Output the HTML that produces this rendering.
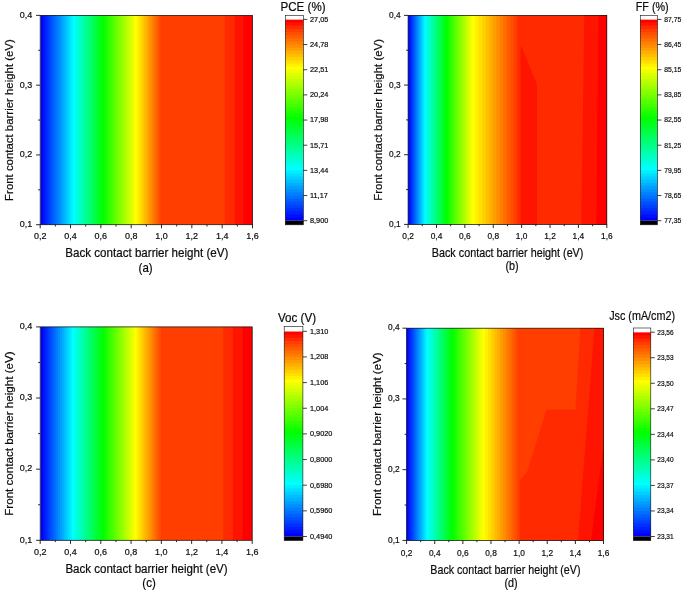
<!DOCTYPE html>
<html><head><meta charset="utf-8"><title>Contour plots</title>
<style>html,body{margin:0;padding:0;background:#fff}svg{display:block;filter:blur(0.35px)}text{font-family:"Liberation Sans",Arial,sans-serif;fill:#0c0c0c;stroke:#0c0c0c;stroke-width:0.2px}</style></head><body>
<svg width="685" height="591" viewBox="0 0 685 591">
<rect width="685" height="591" fill="#fff"/>
<g id="pa">
<rect x="40.50" y="15.40" width="3.02" height="209.30" fill="#0000ff"/>
<rect x="42.52" y="15.40" width="3.02" height="209.30" fill="#0010ff"/>
<rect x="44.54" y="15.40" width="3.02" height="209.30" fill="#0020ff"/>
<rect x="46.56" y="15.40" width="3.02" height="209.30" fill="#0030ff"/>
<rect x="48.58" y="15.40" width="3.02" height="209.30" fill="#0040ff"/>
<rect x="50.59" y="15.40" width="3.02" height="209.30" fill="#0050ff"/>
<rect x="52.61" y="15.40" width="3.02" height="209.30" fill="#0060ff"/>
<rect x="54.63" y="15.40" width="3.02" height="209.30" fill="#0070ff"/>
<rect x="56.65" y="15.40" width="3.02" height="209.30" fill="#0080ff"/>
<rect x="58.67" y="15.40" width="3.02" height="209.30" fill="#008fff"/>
<rect x="60.69" y="15.40" width="3.02" height="209.30" fill="#009fff"/>
<rect x="62.71" y="15.40" width="3.02" height="209.30" fill="#00afff"/>
<rect x="64.72" y="15.40" width="3.02" height="209.30" fill="#00bfff"/>
<rect x="66.74" y="15.40" width="3.02" height="209.30" fill="#00cfff"/>
<rect x="68.76" y="15.40" width="3.02" height="209.30" fill="#00dfff"/>
<rect x="70.78" y="15.40" width="3.02" height="209.30" fill="#00efff"/>
<rect x="72.80" y="15.40" width="2.83" height="209.30" fill="#00ffff"/>
<rect x="74.62" y="15.40" width="2.83" height="209.30" fill="#00ffef"/>
<rect x="76.45" y="15.40" width="2.82" height="209.30" fill="#00ffdf"/>
<rect x="78.27" y="15.40" width="2.83" height="209.30" fill="#00ffcf"/>
<rect x="80.10" y="15.40" width="2.83" height="209.30" fill="#00ffbf"/>
<rect x="81.92" y="15.40" width="2.83" height="209.30" fill="#00ffaf"/>
<rect x="83.75" y="15.40" width="2.83" height="209.30" fill="#00ff9f"/>
<rect x="85.58" y="15.40" width="2.83" height="209.30" fill="#00ff8f"/>
<rect x="87.40" y="15.40" width="2.82" height="209.30" fill="#00ff80"/>
<rect x="89.22" y="15.40" width="2.83" height="209.30" fill="#00ff70"/>
<rect x="91.05" y="15.40" width="2.83" height="209.30" fill="#00ff60"/>
<rect x="92.88" y="15.40" width="2.83" height="209.30" fill="#00ff50"/>
<rect x="94.70" y="15.40" width="2.83" height="209.30" fill="#00ff40"/>
<rect x="96.53" y="15.40" width="2.82" height="209.30" fill="#00ff30"/>
<rect x="98.35" y="15.40" width="2.83" height="209.30" fill="#00ff20"/>
<rect x="100.17" y="15.40" width="2.83" height="209.30" fill="#00ff10"/>
<rect x="102.00" y="15.40" width="3.06" height="209.30" fill="#00ff00"/>
<rect x="104.06" y="15.40" width="3.06" height="209.30" fill="#10ff00"/>
<rect x="106.12" y="15.40" width="3.06" height="209.30" fill="#20ff00"/>
<rect x="108.19" y="15.40" width="3.06" height="209.30" fill="#30ff00"/>
<rect x="110.25" y="15.40" width="3.06" height="209.30" fill="#40ff00"/>
<rect x="112.31" y="15.40" width="3.06" height="209.30" fill="#50ff00"/>
<rect x="114.38" y="15.40" width="3.06" height="209.30" fill="#60ff00"/>
<rect x="116.44" y="15.40" width="3.06" height="209.30" fill="#70ff00"/>
<rect x="118.50" y="15.40" width="3.06" height="209.30" fill="#80ff00"/>
<rect x="120.56" y="15.40" width="3.06" height="209.30" fill="#8fff00"/>
<rect x="122.62" y="15.40" width="3.06" height="209.30" fill="#9fff00"/>
<rect x="124.69" y="15.40" width="3.06" height="209.30" fill="#afff00"/>
<rect x="126.75" y="15.40" width="3.06" height="209.30" fill="#bfff00"/>
<rect x="128.81" y="15.40" width="3.06" height="209.30" fill="#cfff00"/>
<rect x="130.88" y="15.40" width="3.06" height="209.30" fill="#dfff00"/>
<rect x="132.94" y="15.40" width="3.06" height="209.30" fill="#efff00"/>
<rect x="135.00" y="15.40" width="3.12" height="209.30" fill="#ffff00"/>
<rect x="137.12" y="15.40" width="3.12" height="209.30" fill="#ffef00"/>
<rect x="139.25" y="15.40" width="3.12" height="209.30" fill="#ffdf00"/>
<rect x="141.38" y="15.40" width="3.12" height="209.30" fill="#ffcf00"/>
<rect x="143.50" y="15.40" width="3.12" height="209.30" fill="#ffbf00"/>
<rect x="145.62" y="15.40" width="3.12" height="209.30" fill="#ffaf00"/>
<rect x="147.75" y="15.40" width="3.12" height="209.30" fill="#ff9e00"/>
<rect x="149.88" y="15.40" width="3.12" height="209.30" fill="#ff8e00"/>
<rect x="152.00" y="15.40" width="3.12" height="209.30" fill="#ff7e00"/>
<rect x="154.12" y="15.40" width="3.12" height="209.30" fill="#ff6e00"/>
<rect x="156.25" y="15.40" width="3.12" height="209.30" fill="#ff5e00"/>
<rect x="158.38" y="15.40" width="3.12" height="209.30" fill="#ff4e00"/>
<rect x="160.50" y="15.40" width="65.30" height="209.30" fill="#ff3e00"/>
<rect x="224.80" y="15.40" width="10.90" height="209.30" fill="#ff2a00"/>
<rect x="234.70" y="15.40" width="9.80" height="209.30" fill="#ff1400"/>
<rect x="243.50" y="15.40" width="9.00" height="209.30" fill="#ff0000"/>
<rect x="40.20" y="15.40" width="212.30" height="209.30" fill="none" stroke="#111" stroke-width="0.75"/>
<line x1="40.20" y1="224.70" x2="40.20" y2="228.30" stroke="#111" stroke-width="0.9"/>
<text transform="translate(40.20 239.00) scale(1.000 1.050)" font-size="9.00" text-anchor="middle">0,2</text>
<line x1="55.36" y1="224.70" x2="55.36" y2="226.50" stroke="#111" stroke-width="0.9"/>
<line x1="70.53" y1="224.70" x2="70.53" y2="228.30" stroke="#111" stroke-width="0.9"/>
<text transform="translate(70.53 239.00) scale(1.000 1.050)" font-size="9.00" text-anchor="middle">0,4</text>
<line x1="85.69" y1="224.70" x2="85.69" y2="226.50" stroke="#111" stroke-width="0.9"/>
<line x1="100.86" y1="224.70" x2="100.86" y2="228.30" stroke="#111" stroke-width="0.9"/>
<text transform="translate(100.86 239.00) scale(1.000 1.050)" font-size="9.00" text-anchor="middle">0,6</text>
<line x1="116.02" y1="224.70" x2="116.02" y2="226.50" stroke="#111" stroke-width="0.9"/>
<line x1="131.19" y1="224.70" x2="131.19" y2="228.30" stroke="#111" stroke-width="0.9"/>
<text transform="translate(131.19 239.00) scale(1.000 1.050)" font-size="9.00" text-anchor="middle">0,8</text>
<line x1="146.35" y1="224.70" x2="146.35" y2="226.50" stroke="#111" stroke-width="0.9"/>
<line x1="161.51" y1="224.70" x2="161.51" y2="228.30" stroke="#111" stroke-width="0.9"/>
<text transform="translate(161.51 239.00) scale(1.000 1.050)" font-size="9.00" text-anchor="middle">1,0</text>
<line x1="176.68" y1="224.70" x2="176.68" y2="226.50" stroke="#111" stroke-width="0.9"/>
<line x1="191.84" y1="224.70" x2="191.84" y2="228.30" stroke="#111" stroke-width="0.9"/>
<text transform="translate(191.84 239.00) scale(1.000 1.050)" font-size="9.00" text-anchor="middle">1,2</text>
<line x1="207.01" y1="224.70" x2="207.01" y2="226.50" stroke="#111" stroke-width="0.9"/>
<line x1="222.17" y1="224.70" x2="222.17" y2="228.30" stroke="#111" stroke-width="0.9"/>
<text transform="translate(222.17 239.00) scale(1.000 1.050)" font-size="9.00" text-anchor="middle">1,4</text>
<line x1="237.34" y1="224.70" x2="237.34" y2="226.50" stroke="#111" stroke-width="0.9"/>
<line x1="252.50" y1="224.70" x2="252.50" y2="228.30" stroke="#111" stroke-width="0.9"/>
<text transform="translate(252.50 239.00) scale(1.000 1.050)" font-size="9.00" text-anchor="middle">1,6</text>
<line x1="36.10" y1="224.70" x2="40.20" y2="224.70" stroke="#111" stroke-width="0.9"/>
<text transform="translate(32.30 227.20) scale(1.000 1.050)" font-size="9.00" text-anchor="end">0,1</text>
<line x1="38.20" y1="189.82" x2="40.20" y2="189.82" stroke="#111" stroke-width="0.9"/>
<line x1="36.10" y1="154.93" x2="40.20" y2="154.93" stroke="#111" stroke-width="0.9"/>
<text transform="translate(32.30 157.43) scale(1.000 1.050)" font-size="9.00" text-anchor="end">0,2</text>
<line x1="38.20" y1="120.05" x2="40.20" y2="120.05" stroke="#111" stroke-width="0.9"/>
<line x1="36.10" y1="85.17" x2="40.20" y2="85.17" stroke="#111" stroke-width="0.9"/>
<text transform="translate(32.30 87.67) scale(1.000 1.050)" font-size="9.00" text-anchor="end">0,3</text>
<line x1="38.20" y1="50.28" x2="40.20" y2="50.28" stroke="#111" stroke-width="0.9"/>
<line x1="36.10" y1="15.40" x2="40.20" y2="15.40" stroke="#111" stroke-width="0.9"/>
<text transform="translate(32.30 17.90) scale(1.000 1.050)" font-size="9.00" text-anchor="end">0,4</text>
<text transform="translate(146.80 256.80) scale(1.000 1.040)" font-size="11.60" text-anchor="middle">Back contact barrier height (eV)</text>
<text transform="translate(145.60 271.80) scale(1.000 1.040)" font-size="11.50" text-anchor="middle">(a)</text>
<text transform="translate(13.00 120.05) rotate(-90)" font-size="11.42" text-anchor="middle">Front contact barrier height (eV)</text>
<rect x="285.30" y="216.55" width="18.00" height="4.15" fill="#0000ff"/>
<rect x="285.30" y="213.41" width="18.00" height="4.15" fill="#0010ff"/>
<rect x="285.30" y="210.26" width="18.00" height="4.15" fill="#0020ff"/>
<rect x="285.30" y="207.12" width="18.00" height="4.15" fill="#0030ff"/>
<rect x="285.30" y="203.97" width="18.00" height="4.15" fill="#0040ff"/>
<rect x="285.30" y="200.83" width="18.00" height="4.15" fill="#0050ff"/>
<rect x="285.30" y="197.68" width="18.00" height="4.15" fill="#0060ff"/>
<rect x="285.30" y="194.54" width="18.00" height="4.15" fill="#0070ff"/>
<rect x="285.30" y="191.39" width="18.00" height="4.15" fill="#0080ff"/>
<rect x="285.30" y="188.25" width="18.00" height="4.15" fill="#008fff"/>
<rect x="285.30" y="185.10" width="18.00" height="4.15" fill="#009fff"/>
<rect x="285.30" y="181.96" width="18.00" height="4.15" fill="#00afff"/>
<rect x="285.30" y="178.81" width="18.00" height="4.15" fill="#00bfff"/>
<rect x="285.30" y="175.67" width="18.00" height="4.15" fill="#00cfff"/>
<rect x="285.30" y="172.52" width="18.00" height="4.15" fill="#00dfff"/>
<rect x="285.30" y="169.38" width="18.00" height="4.15" fill="#00efff"/>
<rect x="285.30" y="166.23" width="18.00" height="4.15" fill="#00ffff"/>
<rect x="285.30" y="163.08" width="18.00" height="4.15" fill="#00ffef"/>
<rect x="285.30" y="159.94" width="18.00" height="4.15" fill="#00ffdf"/>
<rect x="285.30" y="156.79" width="18.00" height="4.15" fill="#00ffcf"/>
<rect x="285.30" y="153.65" width="18.00" height="4.15" fill="#00ffbf"/>
<rect x="285.30" y="150.50" width="18.00" height="4.15" fill="#00ffaf"/>
<rect x="285.30" y="147.36" width="18.00" height="4.15" fill="#00ff9f"/>
<rect x="285.30" y="144.21" width="18.00" height="4.15" fill="#00ff8f"/>
<rect x="285.30" y="141.07" width="18.00" height="4.15" fill="#00ff80"/>
<rect x="285.30" y="137.92" width="18.00" height="4.15" fill="#00ff70"/>
<rect x="285.30" y="134.78" width="18.00" height="4.15" fill="#00ff60"/>
<rect x="285.30" y="131.63" width="18.00" height="4.15" fill="#00ff50"/>
<rect x="285.30" y="128.49" width="18.00" height="4.15" fill="#00ff40"/>
<rect x="285.30" y="125.34" width="18.00" height="4.15" fill="#00ff30"/>
<rect x="285.30" y="122.20" width="18.00" height="4.15" fill="#00ff20"/>
<rect x="285.30" y="119.05" width="18.00" height="4.15" fill="#00ff10"/>
<rect x="285.30" y="115.90" width="18.00" height="4.15" fill="#00ff00"/>
<rect x="285.30" y="112.76" width="18.00" height="4.15" fill="#10ff00"/>
<rect x="285.30" y="109.61" width="18.00" height="4.15" fill="#20ff00"/>
<rect x="285.30" y="106.47" width="18.00" height="4.15" fill="#30ff00"/>
<rect x="285.30" y="103.32" width="18.00" height="4.15" fill="#40ff00"/>
<rect x="285.30" y="100.18" width="18.00" height="4.15" fill="#50ff00"/>
<rect x="285.30" y="97.03" width="18.00" height="4.15" fill="#60ff00"/>
<rect x="285.30" y="93.89" width="18.00" height="4.15" fill="#70ff00"/>
<rect x="285.30" y="90.74" width="18.00" height="4.15" fill="#80ff00"/>
<rect x="285.30" y="87.60" width="18.00" height="4.15" fill="#8fff00"/>
<rect x="285.30" y="84.45" width="18.00" height="4.15" fill="#9fff00"/>
<rect x="285.30" y="81.31" width="18.00" height="4.15" fill="#afff00"/>
<rect x="285.30" y="78.16" width="18.00" height="4.15" fill="#bfff00"/>
<rect x="285.30" y="75.02" width="18.00" height="4.15" fill="#cfff00"/>
<rect x="285.30" y="71.87" width="18.00" height="4.15" fill="#dfff00"/>
<rect x="285.30" y="68.73" width="18.00" height="4.15" fill="#efff00"/>
<rect x="285.30" y="65.58" width="18.00" height="4.15" fill="#ffff00"/>
<rect x="285.30" y="62.43" width="18.00" height="4.15" fill="#ffef00"/>
<rect x="285.30" y="59.29" width="18.00" height="4.15" fill="#ffdf00"/>
<rect x="285.30" y="56.14" width="18.00" height="4.15" fill="#ffcf00"/>
<rect x="285.30" y="53.00" width="18.00" height="4.15" fill="#ffbf00"/>
<rect x="285.30" y="49.85" width="18.00" height="4.15" fill="#ffaf00"/>
<rect x="285.30" y="46.71" width="18.00" height="4.15" fill="#ff9e00"/>
<rect x="285.30" y="43.56" width="18.00" height="4.15" fill="#ff8e00"/>
<rect x="285.30" y="40.42" width="18.00" height="4.15" fill="#ff7e00"/>
<rect x="285.30" y="37.27" width="18.00" height="4.15" fill="#ff6e00"/>
<rect x="285.30" y="34.13" width="18.00" height="4.15" fill="#ff5e00"/>
<rect x="285.30" y="30.98" width="18.00" height="4.15" fill="#ff4e00"/>
<rect x="285.30" y="27.84" width="18.00" height="4.15" fill="#ff3e00"/>
<rect x="285.30" y="24.69" width="18.00" height="4.15" fill="#ff2a00"/>
<rect x="285.30" y="21.55" width="18.00" height="4.15" fill="#ff1400"/>
<rect x="285.30" y="19.40" width="18.00" height="3.15" fill="#ff0000"/>
<rect x="285.30" y="15.30" width="18.00" height="4.10" fill="#fff"/>
<rect x="285.30" y="220.70" width="18.00" height="4.10" fill="#000"/>
<rect x="285.30" y="15.30" width="18.00" height="209.50" fill="none" stroke="#111" stroke-width="0.6"/>
<line x1="303.30" y1="19.40" x2="307.30" y2="19.40" stroke="#111" stroke-width="0.8"/>
<text transform="translate(310.00 21.80) scale(0.930 1.000)" font-size="7.90">27,05</text>
<line x1="303.30" y1="44.56" x2="307.30" y2="44.56" stroke="#111" stroke-width="0.8"/>
<text transform="translate(310.00 46.96) scale(0.930 1.000)" font-size="7.90">24,78</text>
<line x1="303.30" y1="69.72" x2="307.30" y2="69.72" stroke="#111" stroke-width="0.8"/>
<text transform="translate(310.00 72.12) scale(0.930 1.000)" font-size="7.90">22,51</text>
<line x1="303.30" y1="94.89" x2="307.30" y2="94.89" stroke="#111" stroke-width="0.8"/>
<text transform="translate(310.00 97.29) scale(0.930 1.000)" font-size="7.90">20,24</text>
<line x1="303.30" y1="120.05" x2="307.30" y2="120.05" stroke="#111" stroke-width="0.8"/>
<text transform="translate(310.00 122.45) scale(0.930 1.000)" font-size="7.90">17,98</text>
<line x1="303.30" y1="145.21" x2="307.30" y2="145.21" stroke="#111" stroke-width="0.8"/>
<text transform="translate(310.00 147.61) scale(0.930 1.000)" font-size="7.90">15,71</text>
<line x1="303.30" y1="170.38" x2="307.30" y2="170.38" stroke="#111" stroke-width="0.8"/>
<text transform="translate(310.00 172.78) scale(0.930 1.000)" font-size="7.90">13,44</text>
<line x1="303.30" y1="195.54" x2="307.30" y2="195.54" stroke="#111" stroke-width="0.8"/>
<text transform="translate(310.00 197.94) scale(0.930 1.000)" font-size="7.90">11,17</text>
<line x1="303.30" y1="220.70" x2="307.30" y2="220.70" stroke="#111" stroke-width="0.8"/>
<text transform="translate(310.00 223.10) scale(0.930 1.000)" font-size="7.90">8,900</text>
<text transform="translate(303.00 10.90) scale(1.000 1.080)" font-size="11.60" text-anchor="middle">PCE (%)</text>
</g>
<g id="pc">
<rect x="40.50" y="326.90" width="2.96" height="213.40" fill="#0000ff"/>
<rect x="42.46" y="326.90" width="2.96" height="213.40" fill="#0010ff"/>
<rect x="44.41" y="326.90" width="2.96" height="213.40" fill="#0020ff"/>
<rect x="46.37" y="326.90" width="2.96" height="213.40" fill="#0030ff"/>
<rect x="48.33" y="326.90" width="2.96" height="213.40" fill="#0040ff"/>
<rect x="50.28" y="326.90" width="2.96" height="213.40" fill="#0050ff"/>
<rect x="52.24" y="326.90" width="2.96" height="213.40" fill="#0060ff"/>
<rect x="54.19" y="326.90" width="2.96" height="213.40" fill="#0070ff"/>
<rect x="56.15" y="326.90" width="2.96" height="213.40" fill="#0080ff"/>
<rect x="58.11" y="326.90" width="2.96" height="213.40" fill="#008fff"/>
<rect x="60.06" y="326.90" width="2.96" height="213.40" fill="#009fff"/>
<rect x="62.02" y="326.90" width="2.96" height="213.40" fill="#00afff"/>
<rect x="63.97" y="326.90" width="2.96" height="213.40" fill="#00bfff"/>
<rect x="65.93" y="326.90" width="2.96" height="213.40" fill="#00cfff"/>
<rect x="67.89" y="326.90" width="2.96" height="213.40" fill="#00dfff"/>
<rect x="69.84" y="326.90" width="2.96" height="213.40" fill="#00efff"/>
<rect x="71.80" y="326.90" width="2.90" height="213.40" fill="#00ffff"/>
<rect x="73.70" y="326.90" width="2.90" height="213.40" fill="#00ffef"/>
<rect x="75.60" y="326.90" width="2.90" height="213.40" fill="#00ffdf"/>
<rect x="77.50" y="326.90" width="2.90" height="213.40" fill="#00ffcf"/>
<rect x="79.40" y="326.90" width="2.90" height="213.40" fill="#00ffbf"/>
<rect x="81.30" y="326.90" width="2.90" height="213.40" fill="#00ffaf"/>
<rect x="83.20" y="326.90" width="2.90" height="213.40" fill="#00ff9f"/>
<rect x="85.10" y="326.90" width="2.90" height="213.40" fill="#00ff8f"/>
<rect x="87.00" y="326.90" width="2.90" height="213.40" fill="#00ff80"/>
<rect x="88.90" y="326.90" width="2.90" height="213.40" fill="#00ff70"/>
<rect x="90.80" y="326.90" width="2.90" height="213.40" fill="#00ff60"/>
<rect x="92.70" y="326.90" width="2.90" height="213.40" fill="#00ff50"/>
<rect x="94.60" y="326.90" width="2.90" height="213.40" fill="#00ff40"/>
<rect x="96.50" y="326.90" width="2.90" height="213.40" fill="#00ff30"/>
<rect x="98.40" y="326.90" width="2.90" height="213.40" fill="#00ff20"/>
<rect x="100.30" y="326.90" width="2.90" height="213.40" fill="#00ff10"/>
<rect x="102.20" y="326.90" width="3.02" height="213.40" fill="#00ff00"/>
<rect x="104.22" y="326.90" width="3.02" height="213.40" fill="#10ff00"/>
<rect x="106.24" y="326.90" width="3.02" height="213.40" fill="#20ff00"/>
<rect x="108.26" y="326.90" width="3.02" height="213.40" fill="#30ff00"/>
<rect x="110.28" y="326.90" width="3.02" height="213.40" fill="#40ff00"/>
<rect x="112.29" y="326.90" width="3.02" height="213.40" fill="#50ff00"/>
<rect x="114.31" y="326.90" width="3.02" height="213.40" fill="#60ff00"/>
<rect x="116.33" y="326.90" width="3.02" height="213.40" fill="#70ff00"/>
<rect x="118.35" y="326.90" width="3.02" height="213.40" fill="#80ff00"/>
<rect x="120.37" y="326.90" width="3.02" height="213.40" fill="#8fff00"/>
<rect x="122.39" y="326.90" width="3.02" height="213.40" fill="#9fff00"/>
<rect x="124.41" y="326.90" width="3.02" height="213.40" fill="#afff00"/>
<rect x="126.42" y="326.90" width="3.02" height="213.40" fill="#bfff00"/>
<rect x="128.44" y="326.90" width="3.02" height="213.40" fill="#cfff00"/>
<rect x="130.46" y="326.90" width="3.02" height="213.40" fill="#dfff00"/>
<rect x="132.48" y="326.90" width="3.02" height="213.40" fill="#efff00"/>
<rect x="134.50" y="326.90" width="3.18" height="213.40" fill="#ffff00"/>
<rect x="136.68" y="326.90" width="3.18" height="213.40" fill="#ffef00"/>
<rect x="138.87" y="326.90" width="3.18" height="213.40" fill="#ffdf00"/>
<rect x="141.05" y="326.90" width="3.18" height="213.40" fill="#ffcf00"/>
<rect x="143.23" y="326.90" width="3.18" height="213.40" fill="#ffbf00"/>
<rect x="145.42" y="326.90" width="3.18" height="213.40" fill="#ffaf00"/>
<rect x="147.60" y="326.90" width="3.18" height="213.40" fill="#ff9e00"/>
<rect x="149.78" y="326.90" width="3.18" height="213.40" fill="#ff8e00"/>
<rect x="151.97" y="326.90" width="3.18" height="213.40" fill="#ff7e00"/>
<rect x="154.15" y="326.90" width="3.18" height="213.40" fill="#ff6e00"/>
<rect x="156.33" y="326.90" width="3.18" height="213.40" fill="#ff5e00"/>
<rect x="158.52" y="326.90" width="3.18" height="213.40" fill="#ff4e00"/>
<rect x="160.70" y="326.90" width="63.50" height="213.40" fill="#ff3e00"/>
<rect x="223.20" y="326.90" width="10.70" height="213.40" fill="#ff2a00"/>
<rect x="232.90" y="326.90" width="10.60" height="213.40" fill="#ff1400"/>
<rect x="242.50" y="326.90" width="9.70" height="213.40" fill="#ff0000"/>
<rect x="40.20" y="326.90" width="212.00" height="213.40" fill="none" stroke="#111" stroke-width="0.75"/>
<line x1="40.20" y1="540.30" x2="40.20" y2="543.90" stroke="#111" stroke-width="0.9"/>
<text transform="translate(40.20 555.40) scale(1.000 1.050)" font-size="9.00" text-anchor="middle">0,2</text>
<line x1="55.34" y1="540.30" x2="55.34" y2="542.10" stroke="#111" stroke-width="0.9"/>
<line x1="70.49" y1="540.30" x2="70.49" y2="543.90" stroke="#111" stroke-width="0.9"/>
<text transform="translate(70.49 555.40) scale(1.000 1.050)" font-size="9.00" text-anchor="middle">0,4</text>
<line x1="85.63" y1="540.30" x2="85.63" y2="542.10" stroke="#111" stroke-width="0.9"/>
<line x1="100.77" y1="540.30" x2="100.77" y2="543.90" stroke="#111" stroke-width="0.9"/>
<text transform="translate(100.77 555.40) scale(1.000 1.050)" font-size="9.00" text-anchor="middle">0,6</text>
<line x1="115.91" y1="540.30" x2="115.91" y2="542.10" stroke="#111" stroke-width="0.9"/>
<line x1="131.06" y1="540.30" x2="131.06" y2="543.90" stroke="#111" stroke-width="0.9"/>
<text transform="translate(131.06 555.40) scale(1.000 1.050)" font-size="9.00" text-anchor="middle">0,8</text>
<line x1="146.20" y1="540.30" x2="146.20" y2="542.10" stroke="#111" stroke-width="0.9"/>
<line x1="161.34" y1="540.30" x2="161.34" y2="543.90" stroke="#111" stroke-width="0.9"/>
<text transform="translate(161.34 555.40) scale(1.000 1.050)" font-size="9.00" text-anchor="middle">1,0</text>
<line x1="176.49" y1="540.30" x2="176.49" y2="542.10" stroke="#111" stroke-width="0.9"/>
<line x1="191.63" y1="540.30" x2="191.63" y2="543.90" stroke="#111" stroke-width="0.9"/>
<text transform="translate(191.63 555.40) scale(1.000 1.050)" font-size="9.00" text-anchor="middle">1,2</text>
<line x1="206.77" y1="540.30" x2="206.77" y2="542.10" stroke="#111" stroke-width="0.9"/>
<line x1="221.91" y1="540.30" x2="221.91" y2="543.90" stroke="#111" stroke-width="0.9"/>
<text transform="translate(221.91 555.40) scale(1.000 1.050)" font-size="9.00" text-anchor="middle">1,4</text>
<line x1="237.06" y1="540.30" x2="237.06" y2="542.10" stroke="#111" stroke-width="0.9"/>
<line x1="252.20" y1="540.30" x2="252.20" y2="543.90" stroke="#111" stroke-width="0.9"/>
<text transform="translate(252.20 555.40) scale(1.000 1.050)" font-size="9.00" text-anchor="middle">1,6</text>
<line x1="36.10" y1="540.30" x2="40.20" y2="540.30" stroke="#111" stroke-width="0.9"/>
<text transform="translate(32.30 542.50) scale(1.000 1.050)" font-size="9.00" text-anchor="end">0,1</text>
<line x1="38.20" y1="504.73" x2="40.20" y2="504.73" stroke="#111" stroke-width="0.9"/>
<line x1="36.10" y1="469.17" x2="40.20" y2="469.17" stroke="#111" stroke-width="0.9"/>
<text transform="translate(32.30 471.37) scale(1.000 1.050)" font-size="9.00" text-anchor="end">0,2</text>
<line x1="38.20" y1="433.60" x2="40.20" y2="433.60" stroke="#111" stroke-width="0.9"/>
<line x1="36.10" y1="398.03" x2="40.20" y2="398.03" stroke="#111" stroke-width="0.9"/>
<text transform="translate(32.30 400.23) scale(1.000 1.050)" font-size="9.00" text-anchor="end">0,3</text>
<line x1="38.20" y1="362.47" x2="40.20" y2="362.47" stroke="#111" stroke-width="0.9"/>
<line x1="36.10" y1="326.90" x2="40.20" y2="326.90" stroke="#111" stroke-width="0.9"/>
<text transform="translate(32.30 329.10) scale(1.000 1.050)" font-size="9.00" text-anchor="end">0,4</text>
<text transform="translate(146.50 573.40) scale(1.000 1.040)" font-size="11.55" text-anchor="middle">Back contact barrier height (eV)</text>
<text transform="translate(149.00 586.90) scale(1.000 1.040)" font-size="11.50" text-anchor="middle">(c)</text>
<text transform="translate(13.00 433.60) rotate(-90)" font-size="11.60" text-anchor="middle">Front contact barrier height (eV)</text>
<rect x="284.20" y="532.29" width="18.70" height="4.21" fill="#0000ff"/>
<rect x="284.20" y="529.09" width="18.70" height="4.21" fill="#0010ff"/>
<rect x="284.20" y="525.88" width="18.70" height="4.21" fill="#0020ff"/>
<rect x="284.20" y="522.68" width="18.70" height="4.21" fill="#0030ff"/>
<rect x="284.20" y="519.47" width="18.70" height="4.21" fill="#0040ff"/>
<rect x="284.20" y="516.26" width="18.70" height="4.21" fill="#0050ff"/>
<rect x="284.20" y="513.06" width="18.70" height="4.21" fill="#0060ff"/>
<rect x="284.20" y="509.85" width="18.70" height="4.21" fill="#0070ff"/>
<rect x="284.20" y="506.64" width="18.70" height="4.21" fill="#0080ff"/>
<rect x="284.20" y="503.44" width="18.70" height="4.21" fill="#008fff"/>
<rect x="284.20" y="500.23" width="18.70" height="4.21" fill="#009fff"/>
<rect x="284.20" y="497.02" width="18.70" height="4.21" fill="#00afff"/>
<rect x="284.20" y="493.82" width="18.70" height="4.21" fill="#00bfff"/>
<rect x="284.20" y="490.61" width="18.70" height="4.21" fill="#00cfff"/>
<rect x="284.20" y="487.41" width="18.70" height="4.21" fill="#00dfff"/>
<rect x="284.20" y="484.20" width="18.70" height="4.21" fill="#00efff"/>
<rect x="284.20" y="480.99" width="18.70" height="4.21" fill="#00ffff"/>
<rect x="284.20" y="477.79" width="18.70" height="4.21" fill="#00ffef"/>
<rect x="284.20" y="474.58" width="18.70" height="4.21" fill="#00ffdf"/>
<rect x="284.20" y="471.38" width="18.70" height="4.21" fill="#00ffcf"/>
<rect x="284.20" y="468.17" width="18.70" height="4.21" fill="#00ffbf"/>
<rect x="284.20" y="464.96" width="18.70" height="4.21" fill="#00ffaf"/>
<rect x="284.20" y="461.76" width="18.70" height="4.21" fill="#00ff9f"/>
<rect x="284.20" y="458.55" width="18.70" height="4.21" fill="#00ff8f"/>
<rect x="284.20" y="455.34" width="18.70" height="4.21" fill="#00ff80"/>
<rect x="284.20" y="452.14" width="18.70" height="4.21" fill="#00ff70"/>
<rect x="284.20" y="448.93" width="18.70" height="4.21" fill="#00ff60"/>
<rect x="284.20" y="445.72" width="18.70" height="4.21" fill="#00ff50"/>
<rect x="284.20" y="442.52" width="18.70" height="4.21" fill="#00ff40"/>
<rect x="284.20" y="439.31" width="18.70" height="4.21" fill="#00ff30"/>
<rect x="284.20" y="436.11" width="18.70" height="4.21" fill="#00ff20"/>
<rect x="284.20" y="432.90" width="18.70" height="4.21" fill="#00ff10"/>
<rect x="284.20" y="429.69" width="18.70" height="4.21" fill="#00ff00"/>
<rect x="284.20" y="426.49" width="18.70" height="4.21" fill="#10ff00"/>
<rect x="284.20" y="423.28" width="18.70" height="4.21" fill="#20ff00"/>
<rect x="284.20" y="420.07" width="18.70" height="4.21" fill="#30ff00"/>
<rect x="284.20" y="416.87" width="18.70" height="4.21" fill="#40ff00"/>
<rect x="284.20" y="413.66" width="18.70" height="4.21" fill="#50ff00"/>
<rect x="284.20" y="410.46" width="18.70" height="4.21" fill="#60ff00"/>
<rect x="284.20" y="407.25" width="18.70" height="4.21" fill="#70ff00"/>
<rect x="284.20" y="404.04" width="18.70" height="4.21" fill="#80ff00"/>
<rect x="284.20" y="400.84" width="18.70" height="4.21" fill="#8fff00"/>
<rect x="284.20" y="397.63" width="18.70" height="4.21" fill="#9fff00"/>
<rect x="284.20" y="394.43" width="18.70" height="4.21" fill="#afff00"/>
<rect x="284.20" y="391.22" width="18.70" height="4.21" fill="#bfff00"/>
<rect x="284.20" y="388.01" width="18.70" height="4.21" fill="#cfff00"/>
<rect x="284.20" y="384.81" width="18.70" height="4.21" fill="#dfff00"/>
<rect x="284.20" y="381.60" width="18.70" height="4.21" fill="#efff00"/>
<rect x="284.20" y="378.39" width="18.70" height="4.21" fill="#ffff00"/>
<rect x="284.20" y="375.19" width="18.70" height="4.21" fill="#ffef00"/>
<rect x="284.20" y="371.98" width="18.70" height="4.21" fill="#ffdf00"/>
<rect x="284.20" y="368.78" width="18.70" height="4.21" fill="#ffcf00"/>
<rect x="284.20" y="365.57" width="18.70" height="4.21" fill="#ffbf00"/>
<rect x="284.20" y="362.36" width="18.70" height="4.21" fill="#ffaf00"/>
<rect x="284.20" y="359.16" width="18.70" height="4.21" fill="#ff9e00"/>
<rect x="284.20" y="355.95" width="18.70" height="4.21" fill="#ff8e00"/>
<rect x="284.20" y="352.74" width="18.70" height="4.21" fill="#ff7e00"/>
<rect x="284.20" y="349.54" width="18.70" height="4.21" fill="#ff6e00"/>
<rect x="284.20" y="346.33" width="18.70" height="4.21" fill="#ff5e00"/>
<rect x="284.20" y="343.12" width="18.70" height="4.21" fill="#ff4e00"/>
<rect x="284.20" y="339.92" width="18.70" height="4.21" fill="#ff3e00"/>
<rect x="284.20" y="336.71" width="18.70" height="4.21" fill="#ff2a00"/>
<rect x="284.20" y="333.51" width="18.70" height="4.21" fill="#ff1400"/>
<rect x="284.20" y="331.30" width="18.70" height="3.21" fill="#ff0000"/>
<rect x="284.20" y="326.60" width="18.70" height="4.70" fill="#fff"/>
<rect x="284.20" y="536.50" width="18.70" height="4.00" fill="#000"/>
<rect x="284.20" y="326.60" width="18.70" height="213.90" fill="none" stroke="#111" stroke-width="0.6"/>
<line x1="302.90" y1="331.30" x2="306.90" y2="331.30" stroke="#111" stroke-width="0.8"/>
<text transform="translate(310.00 333.70) scale(0.930 1.000)" font-size="7.90">1,310</text>
<line x1="302.90" y1="356.95" x2="306.90" y2="356.95" stroke="#111" stroke-width="0.8"/>
<text transform="translate(310.00 359.35) scale(0.930 1.000)" font-size="7.90">1,208</text>
<line x1="302.90" y1="382.60" x2="306.90" y2="382.60" stroke="#111" stroke-width="0.8"/>
<text transform="translate(310.00 385.00) scale(0.930 1.000)" font-size="7.90">1,106</text>
<line x1="302.90" y1="408.25" x2="306.90" y2="408.25" stroke="#111" stroke-width="0.8"/>
<text transform="translate(310.00 410.65) scale(0.930 1.000)" font-size="7.90">1,004</text>
<line x1="302.90" y1="433.90" x2="306.90" y2="433.90" stroke="#111" stroke-width="0.8"/>
<text transform="translate(310.00 436.30) scale(0.930 1.000)" font-size="7.90">0,9020</text>
<line x1="302.90" y1="459.55" x2="306.90" y2="459.55" stroke="#111" stroke-width="0.8"/>
<text transform="translate(310.00 461.95) scale(0.930 1.000)" font-size="7.90">0,8000</text>
<line x1="302.90" y1="485.20" x2="306.90" y2="485.20" stroke="#111" stroke-width="0.8"/>
<text transform="translate(310.00 487.60) scale(0.930 1.000)" font-size="7.90">0,6980</text>
<line x1="302.90" y1="510.85" x2="306.90" y2="510.85" stroke="#111" stroke-width="0.8"/>
<text transform="translate(310.00 513.25) scale(0.930 1.000)" font-size="7.90">0,5960</text>
<line x1="302.90" y1="536.50" x2="306.90" y2="536.50" stroke="#111" stroke-width="0.8"/>
<text transform="translate(310.00 538.90) scale(0.930 1.000)" font-size="7.90">0,4940</text>
<text transform="translate(297.00 322.00) scale(1.000 1.080)" font-size="11.60" text-anchor="middle">Voc (V)</text>
</g>
<g id="pb">
<rect x="408.10" y="15.40" width="2.02" height="209.00" fill="#0000ff"/>
<rect x="409.12" y="15.40" width="2.03" height="209.00" fill="#0010ff"/>
<rect x="410.15" y="15.40" width="2.02" height="209.00" fill="#0020ff"/>
<rect x="411.18" y="15.40" width="2.03" height="209.00" fill="#0030ff"/>
<rect x="412.20" y="15.40" width="2.02" height="209.00" fill="#0040ff"/>
<rect x="413.23" y="15.40" width="2.02" height="209.00" fill="#0050ff"/>
<rect x="414.25" y="15.40" width="2.03" height="209.00" fill="#0060ff"/>
<rect x="415.28" y="15.40" width="2.02" height="209.00" fill="#0070ff"/>
<rect x="416.30" y="15.40" width="2.02" height="209.00" fill="#0080ff"/>
<rect x="417.32" y="15.40" width="2.03" height="209.00" fill="#008fff"/>
<rect x="418.35" y="15.40" width="2.02" height="209.00" fill="#009fff"/>
<rect x="419.38" y="15.40" width="2.02" height="209.00" fill="#00afff"/>
<rect x="420.40" y="15.40" width="2.03" height="209.00" fill="#00bfff"/>
<rect x="421.43" y="15.40" width="2.02" height="209.00" fill="#00cfff"/>
<rect x="422.45" y="15.40" width="2.03" height="209.00" fill="#00dfff"/>
<rect x="423.48" y="15.40" width="2.02" height="209.00" fill="#00efff"/>
<rect x="424.50" y="15.40" width="2.32" height="209.00" fill="#00ffff"/>
<rect x="425.82" y="15.40" width="2.32" height="209.00" fill="#00ffef"/>
<rect x="427.14" y="15.40" width="2.32" height="209.00" fill="#00ffdf"/>
<rect x="428.46" y="15.40" width="2.32" height="209.00" fill="#00ffcf"/>
<rect x="429.77" y="15.40" width="2.32" height="209.00" fill="#00ffbf"/>
<rect x="431.09" y="15.40" width="2.32" height="209.00" fill="#00ffaf"/>
<rect x="432.41" y="15.40" width="2.32" height="209.00" fill="#00ff9f"/>
<rect x="433.73" y="15.40" width="2.32" height="209.00" fill="#00ff8f"/>
<rect x="435.05" y="15.40" width="2.32" height="209.00" fill="#00ff80"/>
<rect x="436.37" y="15.40" width="2.32" height="209.00" fill="#00ff70"/>
<rect x="437.69" y="15.40" width="2.32" height="209.00" fill="#00ff60"/>
<rect x="439.01" y="15.40" width="2.32" height="209.00" fill="#00ff50"/>
<rect x="440.33" y="15.40" width="2.32" height="209.00" fill="#00ff40"/>
<rect x="441.64" y="15.40" width="2.32" height="209.00" fill="#00ff30"/>
<rect x="442.96" y="15.40" width="2.32" height="209.00" fill="#00ff20"/>
<rect x="444.28" y="15.40" width="2.32" height="209.00" fill="#00ff10"/>
<rect x="445.60" y="15.40" width="2.64" height="209.00" fill="#00ff00"/>
<rect x="447.24" y="15.40" width="2.64" height="209.00" fill="#10ff00"/>
<rect x="448.88" y="15.40" width="2.64" height="209.00" fill="#20ff00"/>
<rect x="450.51" y="15.40" width="2.64" height="209.00" fill="#30ff00"/>
<rect x="452.15" y="15.40" width="2.64" height="209.00" fill="#40ff00"/>
<rect x="453.79" y="15.40" width="2.64" height="209.00" fill="#50ff00"/>
<rect x="455.43" y="15.40" width="2.64" height="209.00" fill="#60ff00"/>
<rect x="457.06" y="15.40" width="2.64" height="209.00" fill="#70ff00"/>
<rect x="458.70" y="15.40" width="2.64" height="209.00" fill="#80ff00"/>
<rect x="460.34" y="15.40" width="2.64" height="209.00" fill="#8fff00"/>
<rect x="461.98" y="15.40" width="2.64" height="209.00" fill="#9fff00"/>
<rect x="463.61" y="15.40" width="2.64" height="209.00" fill="#afff00"/>
<rect x="465.25" y="15.40" width="2.64" height="209.00" fill="#bfff00"/>
<rect x="466.89" y="15.40" width="2.64" height="209.00" fill="#cfff00"/>
<rect x="468.53" y="15.40" width="2.64" height="209.00" fill="#dfff00"/>
<rect x="470.16" y="15.40" width="2.64" height="209.00" fill="#efff00"/>
<rect x="471.80" y="15.40" width="4.49" height="209.00" fill="#ffff00"/>
<rect x="475.29" y="15.40" width="4.49" height="209.00" fill="#ffef00"/>
<rect x="478.78" y="15.40" width="4.49" height="209.00" fill="#ffdf00"/>
<rect x="482.28" y="15.40" width="4.49" height="209.00" fill="#ffcf00"/>
<rect x="485.77" y="15.40" width="4.49" height="209.00" fill="#ffbf00"/>
<rect x="489.26" y="15.40" width="4.49" height="209.00" fill="#ffaf00"/>
<rect x="492.75" y="15.40" width="4.49" height="209.00" fill="#ff9e00"/>
<rect x="496.25" y="15.40" width="4.49" height="209.00" fill="#ff8e00"/>
<rect x="499.74" y="15.40" width="4.49" height="209.00" fill="#ff7e00"/>
<rect x="503.23" y="15.40" width="4.49" height="209.00" fill="#ff6e00"/>
<rect x="506.72" y="15.40" width="4.49" height="209.00" fill="#ff5e00"/>
<rect x="510.22" y="15.40" width="4.49" height="209.00" fill="#ff4e00"/>
<rect x="513.71" y="15.40" width="4.49" height="209.00" fill="#ff3e00"/>
<rect x="517.20" y="15.40" width="89.60" height="209.00" fill="#ff2a00"/>
<polygon points="520.5,224.40 537,224.40 537,84.6 521.2,45.8 520.5,50" fill="#ff1400"/>
<polygon points="584.3,15.40 606.8,15.40 606.8,224.40 581.3,224.40" fill="#ff1400"/>
<polygon points="598.5,15.40 606.8,15.40 606.8,224.40 596.3,224.40" fill="#ff0000"/>
<rect x="408.10" y="15.40" width="198.70" height="209.00" fill="none" stroke="#111" stroke-width="0.75"/>
<line x1="408.10" y1="224.40" x2="408.10" y2="228.00" stroke="#111" stroke-width="0.9"/>
<text transform="translate(408.10 238.70) scale(0.930 1.050)" font-size="9.00" text-anchor="middle">0,2</text>
<line x1="422.29" y1="224.40" x2="422.29" y2="226.20" stroke="#111" stroke-width="0.9"/>
<line x1="436.49" y1="224.40" x2="436.49" y2="228.00" stroke="#111" stroke-width="0.9"/>
<text transform="translate(436.49 238.70) scale(0.930 1.050)" font-size="9.00" text-anchor="middle">0,4</text>
<line x1="450.68" y1="224.40" x2="450.68" y2="226.20" stroke="#111" stroke-width="0.9"/>
<line x1="464.87" y1="224.40" x2="464.87" y2="228.00" stroke="#111" stroke-width="0.9"/>
<text transform="translate(464.87 238.70) scale(0.930 1.050)" font-size="9.00" text-anchor="middle">0,6</text>
<line x1="479.06" y1="224.40" x2="479.06" y2="226.20" stroke="#111" stroke-width="0.9"/>
<line x1="493.26" y1="224.40" x2="493.26" y2="228.00" stroke="#111" stroke-width="0.9"/>
<text transform="translate(493.26 238.70) scale(0.930 1.050)" font-size="9.00" text-anchor="middle">0,8</text>
<line x1="507.45" y1="224.40" x2="507.45" y2="226.20" stroke="#111" stroke-width="0.9"/>
<line x1="521.64" y1="224.40" x2="521.64" y2="228.00" stroke="#111" stroke-width="0.9"/>
<text transform="translate(521.64 238.70) scale(0.930 1.050)" font-size="9.00" text-anchor="middle">1,0</text>
<line x1="535.84" y1="224.40" x2="535.84" y2="226.20" stroke="#111" stroke-width="0.9"/>
<line x1="550.03" y1="224.40" x2="550.03" y2="228.00" stroke="#111" stroke-width="0.9"/>
<text transform="translate(550.03 238.70) scale(0.930 1.050)" font-size="9.00" text-anchor="middle">1,2</text>
<line x1="564.22" y1="224.40" x2="564.22" y2="226.20" stroke="#111" stroke-width="0.9"/>
<line x1="578.41" y1="224.40" x2="578.41" y2="228.00" stroke="#111" stroke-width="0.9"/>
<text transform="translate(578.41 238.70) scale(0.930 1.050)" font-size="9.00" text-anchor="middle">1,4</text>
<line x1="592.61" y1="224.40" x2="592.61" y2="226.20" stroke="#111" stroke-width="0.9"/>
<line x1="606.80" y1="224.40" x2="606.80" y2="228.00" stroke="#111" stroke-width="0.9"/>
<text transform="translate(606.80 238.70) scale(0.930 1.050)" font-size="9.00" text-anchor="middle">1,6</text>
<line x1="404.00" y1="224.40" x2="408.10" y2="224.40" stroke="#111" stroke-width="0.9"/>
<text transform="translate(400.70 226.90) scale(0.930 1.050)" font-size="9.00" text-anchor="end">0,1</text>
<line x1="406.10" y1="189.57" x2="408.10" y2="189.57" stroke="#111" stroke-width="0.9"/>
<line x1="404.00" y1="154.73" x2="408.10" y2="154.73" stroke="#111" stroke-width="0.9"/>
<text transform="translate(400.70 157.23) scale(0.930 1.050)" font-size="9.00" text-anchor="end">0,2</text>
<line x1="406.10" y1="119.90" x2="408.10" y2="119.90" stroke="#111" stroke-width="0.9"/>
<line x1="404.00" y1="85.07" x2="408.10" y2="85.07" stroke="#111" stroke-width="0.9"/>
<text transform="translate(400.70 87.57) scale(0.930 1.050)" font-size="9.00" text-anchor="end">0,3</text>
<line x1="406.10" y1="50.23" x2="408.10" y2="50.23" stroke="#111" stroke-width="0.9"/>
<line x1="404.00" y1="15.40" x2="408.10" y2="15.40" stroke="#111" stroke-width="0.9"/>
<text transform="translate(400.70 17.90) scale(0.930 1.050)" font-size="9.00" text-anchor="end">0,4</text>
<text transform="translate(507.60 256.90) scale(0.930 1.040)" font-size="11.60" text-anchor="middle">Back contact barrier height (eV)</text>
<text transform="translate(512.00 270.10) scale(0.930 1.040)" font-size="11.60" text-anchor="middle">(b)</text>
<text transform="translate(382.30 119.90) rotate(-90)" font-size="11.42" text-anchor="middle">Front contact barrier height (eV)</text>
<rect x="640.30" y="216.55" width="17.10" height="4.15" fill="#0000ff"/>
<rect x="640.30" y="213.41" width="17.10" height="4.15" fill="#0010ff"/>
<rect x="640.30" y="210.26" width="17.10" height="4.15" fill="#0020ff"/>
<rect x="640.30" y="207.12" width="17.10" height="4.15" fill="#0030ff"/>
<rect x="640.30" y="203.97" width="17.10" height="4.15" fill="#0040ff"/>
<rect x="640.30" y="200.83" width="17.10" height="4.15" fill="#0050ff"/>
<rect x="640.30" y="197.68" width="17.10" height="4.15" fill="#0060ff"/>
<rect x="640.30" y="194.54" width="17.10" height="4.15" fill="#0070ff"/>
<rect x="640.30" y="191.39" width="17.10" height="4.15" fill="#0080ff"/>
<rect x="640.30" y="188.25" width="17.10" height="4.15" fill="#008fff"/>
<rect x="640.30" y="185.10" width="17.10" height="4.15" fill="#009fff"/>
<rect x="640.30" y="181.96" width="17.10" height="4.15" fill="#00afff"/>
<rect x="640.30" y="178.81" width="17.10" height="4.15" fill="#00bfff"/>
<rect x="640.30" y="175.67" width="17.10" height="4.15" fill="#00cfff"/>
<rect x="640.30" y="172.52" width="17.10" height="4.15" fill="#00dfff"/>
<rect x="640.30" y="169.38" width="17.10" height="4.15" fill="#00efff"/>
<rect x="640.30" y="166.23" width="17.10" height="4.15" fill="#00ffff"/>
<rect x="640.30" y="163.08" width="17.10" height="4.15" fill="#00ffef"/>
<rect x="640.30" y="159.94" width="17.10" height="4.15" fill="#00ffdf"/>
<rect x="640.30" y="156.79" width="17.10" height="4.15" fill="#00ffcf"/>
<rect x="640.30" y="153.65" width="17.10" height="4.15" fill="#00ffbf"/>
<rect x="640.30" y="150.50" width="17.10" height="4.15" fill="#00ffaf"/>
<rect x="640.30" y="147.36" width="17.10" height="4.15" fill="#00ff9f"/>
<rect x="640.30" y="144.21" width="17.10" height="4.15" fill="#00ff8f"/>
<rect x="640.30" y="141.07" width="17.10" height="4.15" fill="#00ff80"/>
<rect x="640.30" y="137.92" width="17.10" height="4.15" fill="#00ff70"/>
<rect x="640.30" y="134.78" width="17.10" height="4.15" fill="#00ff60"/>
<rect x="640.30" y="131.63" width="17.10" height="4.15" fill="#00ff50"/>
<rect x="640.30" y="128.49" width="17.10" height="4.15" fill="#00ff40"/>
<rect x="640.30" y="125.34" width="17.10" height="4.15" fill="#00ff30"/>
<rect x="640.30" y="122.20" width="17.10" height="4.15" fill="#00ff20"/>
<rect x="640.30" y="119.05" width="17.10" height="4.15" fill="#00ff10"/>
<rect x="640.30" y="115.90" width="17.10" height="4.15" fill="#00ff00"/>
<rect x="640.30" y="112.76" width="17.10" height="4.15" fill="#10ff00"/>
<rect x="640.30" y="109.61" width="17.10" height="4.15" fill="#20ff00"/>
<rect x="640.30" y="106.47" width="17.10" height="4.15" fill="#30ff00"/>
<rect x="640.30" y="103.32" width="17.10" height="4.15" fill="#40ff00"/>
<rect x="640.30" y="100.18" width="17.10" height="4.15" fill="#50ff00"/>
<rect x="640.30" y="97.03" width="17.10" height="4.15" fill="#60ff00"/>
<rect x="640.30" y="93.89" width="17.10" height="4.15" fill="#70ff00"/>
<rect x="640.30" y="90.74" width="17.10" height="4.15" fill="#80ff00"/>
<rect x="640.30" y="87.60" width="17.10" height="4.15" fill="#8fff00"/>
<rect x="640.30" y="84.45" width="17.10" height="4.15" fill="#9fff00"/>
<rect x="640.30" y="81.31" width="17.10" height="4.15" fill="#afff00"/>
<rect x="640.30" y="78.16" width="17.10" height="4.15" fill="#bfff00"/>
<rect x="640.30" y="75.02" width="17.10" height="4.15" fill="#cfff00"/>
<rect x="640.30" y="71.87" width="17.10" height="4.15" fill="#dfff00"/>
<rect x="640.30" y="68.73" width="17.10" height="4.15" fill="#efff00"/>
<rect x="640.30" y="65.58" width="17.10" height="4.15" fill="#ffff00"/>
<rect x="640.30" y="62.43" width="17.10" height="4.15" fill="#ffef00"/>
<rect x="640.30" y="59.29" width="17.10" height="4.15" fill="#ffdf00"/>
<rect x="640.30" y="56.14" width="17.10" height="4.15" fill="#ffcf00"/>
<rect x="640.30" y="53.00" width="17.10" height="4.15" fill="#ffbf00"/>
<rect x="640.30" y="49.85" width="17.10" height="4.15" fill="#ffaf00"/>
<rect x="640.30" y="46.71" width="17.10" height="4.15" fill="#ff9e00"/>
<rect x="640.30" y="43.56" width="17.10" height="4.15" fill="#ff8e00"/>
<rect x="640.30" y="40.42" width="17.10" height="4.15" fill="#ff7e00"/>
<rect x="640.30" y="37.27" width="17.10" height="4.15" fill="#ff6e00"/>
<rect x="640.30" y="34.13" width="17.10" height="4.15" fill="#ff5e00"/>
<rect x="640.30" y="30.98" width="17.10" height="4.15" fill="#ff4e00"/>
<rect x="640.30" y="27.84" width="17.10" height="4.15" fill="#ff3e00"/>
<rect x="640.30" y="24.69" width="17.10" height="4.15" fill="#ff2a00"/>
<rect x="640.30" y="21.55" width="17.10" height="4.15" fill="#ff1400"/>
<rect x="640.30" y="19.40" width="17.10" height="3.15" fill="#ff0000"/>
<rect x="640.30" y="15.30" width="17.10" height="4.10" fill="#fff"/>
<rect x="640.30" y="220.70" width="17.10" height="4.10" fill="#000"/>
<rect x="640.30" y="15.30" width="17.10" height="209.50" fill="none" stroke="#111" stroke-width="0.6"/>
<line x1="657.40" y1="19.40" x2="661.40" y2="19.40" stroke="#111" stroke-width="0.8"/>
<text transform="translate(664.30 21.80) scale(0.860 1.000)" font-size="7.90">87,75</text>
<line x1="657.40" y1="44.56" x2="661.40" y2="44.56" stroke="#111" stroke-width="0.8"/>
<text transform="translate(664.30 46.96) scale(0.860 1.000)" font-size="7.90">86,45</text>
<line x1="657.40" y1="69.72" x2="661.40" y2="69.72" stroke="#111" stroke-width="0.8"/>
<text transform="translate(664.30 72.12) scale(0.860 1.000)" font-size="7.90">85,15</text>
<line x1="657.40" y1="94.89" x2="661.40" y2="94.89" stroke="#111" stroke-width="0.8"/>
<text transform="translate(664.30 97.29) scale(0.860 1.000)" font-size="7.90">83,85</text>
<line x1="657.40" y1="120.05" x2="661.40" y2="120.05" stroke="#111" stroke-width="0.8"/>
<text transform="translate(664.30 122.45) scale(0.860 1.000)" font-size="7.90">82,55</text>
<line x1="657.40" y1="145.21" x2="661.40" y2="145.21" stroke="#111" stroke-width="0.8"/>
<text transform="translate(664.30 147.61) scale(0.860 1.000)" font-size="7.90">81,25</text>
<line x1="657.40" y1="170.38" x2="661.40" y2="170.38" stroke="#111" stroke-width="0.8"/>
<text transform="translate(664.30 172.78) scale(0.860 1.000)" font-size="7.90">79,95</text>
<line x1="657.40" y1="195.54" x2="661.40" y2="195.54" stroke="#111" stroke-width="0.8"/>
<text transform="translate(664.30 197.94) scale(0.860 1.000)" font-size="7.90">78,65</text>
<line x1="657.40" y1="220.70" x2="661.40" y2="220.70" stroke="#111" stroke-width="0.8"/>
<text transform="translate(664.30 223.10) scale(0.860 1.000)" font-size="7.90">77,35</text>
<text transform="translate(652.20 10.90) scale(0.930 1.080)" font-size="11.60" text-anchor="middle">FF (%)</text>
</g>
<g id="pd">
<rect x="406.60" y="328.20" width="2.24" height="212.20" fill="#0000ff"/>
<rect x="407.84" y="328.20" width="2.24" height="212.20" fill="#0010ff"/>
<rect x="409.09" y="328.20" width="2.24" height="212.20" fill="#0020ff"/>
<rect x="410.33" y="328.20" width="2.24" height="212.20" fill="#0030ff"/>
<rect x="411.58" y="328.20" width="2.24" height="212.20" fill="#0040ff"/>
<rect x="412.82" y="328.20" width="2.24" height="212.20" fill="#0050ff"/>
<rect x="414.06" y="328.20" width="2.24" height="212.20" fill="#0060ff"/>
<rect x="415.31" y="328.20" width="2.24" height="212.20" fill="#0070ff"/>
<rect x="416.55" y="328.20" width="2.24" height="212.20" fill="#0080ff"/>
<rect x="417.79" y="328.20" width="2.24" height="212.20" fill="#008fff"/>
<rect x="419.04" y="328.20" width="2.24" height="212.20" fill="#009fff"/>
<rect x="420.28" y="328.20" width="2.24" height="212.20" fill="#00afff"/>
<rect x="421.52" y="328.20" width="2.24" height="212.20" fill="#00bfff"/>
<rect x="422.77" y="328.20" width="2.24" height="212.20" fill="#00cfff"/>
<rect x="424.01" y="328.20" width="2.24" height="212.20" fill="#00dfff"/>
<rect x="425.26" y="328.20" width="2.24" height="212.20" fill="#00efff"/>
<rect x="426.50" y="328.20" width="2.55" height="212.20" fill="#00ffff"/>
<rect x="428.05" y="328.20" width="2.55" height="212.20" fill="#00ffef"/>
<rect x="429.60" y="328.20" width="2.55" height="212.20" fill="#00ffdf"/>
<rect x="431.15" y="328.20" width="2.55" height="212.20" fill="#00ffcf"/>
<rect x="432.70" y="328.20" width="2.55" height="212.20" fill="#00ffbf"/>
<rect x="434.25" y="328.20" width="2.55" height="212.20" fill="#00ffaf"/>
<rect x="435.80" y="328.20" width="2.55" height="212.20" fill="#00ff9f"/>
<rect x="437.35" y="328.20" width="2.55" height="212.20" fill="#00ff8f"/>
<rect x="438.90" y="328.20" width="2.55" height="212.20" fill="#00ff80"/>
<rect x="440.45" y="328.20" width="2.55" height="212.20" fill="#00ff70"/>
<rect x="442.00" y="328.20" width="2.55" height="212.20" fill="#00ff60"/>
<rect x="443.55" y="328.20" width="2.55" height="212.20" fill="#00ff50"/>
<rect x="445.10" y="328.20" width="2.55" height="212.20" fill="#00ff40"/>
<rect x="446.65" y="328.20" width="2.55" height="212.20" fill="#00ff30"/>
<rect x="448.20" y="328.20" width="2.55" height="212.20" fill="#00ff20"/>
<rect x="449.75" y="328.20" width="2.55" height="212.20" fill="#00ff10"/>
<rect x="451.30" y="328.20" width="2.94" height="212.20" fill="#00ff00"/>
<rect x="453.24" y="328.20" width="2.94" height="212.20" fill="#10ff00"/>
<rect x="455.18" y="328.20" width="2.94" height="212.20" fill="#20ff00"/>
<rect x="457.11" y="328.20" width="2.94" height="212.20" fill="#30ff00"/>
<rect x="459.05" y="328.20" width="2.94" height="212.20" fill="#40ff00"/>
<rect x="460.99" y="328.20" width="2.94" height="212.20" fill="#50ff00"/>
<rect x="462.93" y="328.20" width="2.94" height="212.20" fill="#60ff00"/>
<rect x="464.86" y="328.20" width="2.94" height="212.20" fill="#70ff00"/>
<rect x="466.80" y="328.20" width="2.94" height="212.20" fill="#80ff00"/>
<rect x="468.74" y="328.20" width="2.94" height="212.20" fill="#8fff00"/>
<rect x="470.68" y="328.20" width="2.94" height="212.20" fill="#9fff00"/>
<rect x="472.61" y="328.20" width="2.94" height="212.20" fill="#afff00"/>
<rect x="474.55" y="328.20" width="2.94" height="212.20" fill="#bfff00"/>
<rect x="476.49" y="328.20" width="2.94" height="212.20" fill="#cfff00"/>
<rect x="478.43" y="328.20" width="2.94" height="212.20" fill="#dfff00"/>
<rect x="480.36" y="328.20" width="2.94" height="212.20" fill="#efff00"/>
<rect x="482.30" y="328.20" width="3.92" height="212.20" fill="#ffff00"/>
<rect x="485.22" y="328.20" width="3.92" height="212.20" fill="#ffef00"/>
<rect x="488.13" y="328.20" width="3.92" height="212.20" fill="#ffdf00"/>
<rect x="491.05" y="328.20" width="3.92" height="212.20" fill="#ffcf00"/>
<rect x="493.97" y="328.20" width="3.92" height="212.20" fill="#ffbf00"/>
<rect x="496.88" y="328.20" width="3.92" height="212.20" fill="#ffaf00"/>
<rect x="499.80" y="328.20" width="3.92" height="212.20" fill="#ff9e00"/>
<rect x="502.72" y="328.20" width="3.92" height="212.20" fill="#ff8e00"/>
<rect x="505.63" y="328.20" width="3.92" height="212.20" fill="#ff7e00"/>
<rect x="508.55" y="328.20" width="3.92" height="212.20" fill="#ff6e00"/>
<rect x="511.47" y="328.20" width="3.92" height="212.20" fill="#ff5e00"/>
<rect x="514.38" y="328.20" width="3.92" height="212.20" fill="#ff4e00"/>
<rect x="517.30" y="328.20" width="86.20" height="212.20" fill="#ff3e00"/>
<polygon points="519.6,540.40 519.6,480.5 527.3,471.4 546.6,409.4 575.4,409.4 580.3,328.20 603.50,328.20 603.50,540.40" fill="#ff2a00"/>
<polygon points="594.5,328.20 603.50,328.20 603.50,540.40 578,540.40" fill="#ff1400"/>
<polygon points="603.50,445 603.50,540.40 591,540.40" fill="#ff0000"/>
<rect x="406.60" y="328.20" width="196.90" height="212.20" fill="none" stroke="#111" stroke-width="0.75"/>
<line x1="406.60" y1="540.40" x2="406.60" y2="544.00" stroke="#111" stroke-width="0.9"/>
<text transform="translate(406.60 555.70) scale(0.930 1.050)" font-size="9.00" text-anchor="middle">0,2</text>
<line x1="420.66" y1="540.40" x2="420.66" y2="542.20" stroke="#111" stroke-width="0.9"/>
<line x1="434.73" y1="540.40" x2="434.73" y2="544.00" stroke="#111" stroke-width="0.9"/>
<text transform="translate(434.73 555.70) scale(0.930 1.050)" font-size="9.00" text-anchor="middle">0,4</text>
<line x1="448.79" y1="540.40" x2="448.79" y2="542.20" stroke="#111" stroke-width="0.9"/>
<line x1="462.86" y1="540.40" x2="462.86" y2="544.00" stroke="#111" stroke-width="0.9"/>
<text transform="translate(462.86 555.70) scale(0.930 1.050)" font-size="9.00" text-anchor="middle">0,6</text>
<line x1="476.92" y1="540.40" x2="476.92" y2="542.20" stroke="#111" stroke-width="0.9"/>
<line x1="490.99" y1="540.40" x2="490.99" y2="544.00" stroke="#111" stroke-width="0.9"/>
<text transform="translate(490.99 555.70) scale(0.930 1.050)" font-size="9.00" text-anchor="middle">0,8</text>
<line x1="505.05" y1="540.40" x2="505.05" y2="542.20" stroke="#111" stroke-width="0.9"/>
<line x1="519.11" y1="540.40" x2="519.11" y2="544.00" stroke="#111" stroke-width="0.9"/>
<text transform="translate(519.11 555.70) scale(0.930 1.050)" font-size="9.00" text-anchor="middle">1,0</text>
<line x1="533.18" y1="540.40" x2="533.18" y2="542.20" stroke="#111" stroke-width="0.9"/>
<line x1="547.24" y1="540.40" x2="547.24" y2="544.00" stroke="#111" stroke-width="0.9"/>
<text transform="translate(547.24 555.70) scale(0.930 1.050)" font-size="9.00" text-anchor="middle">1,2</text>
<line x1="561.31" y1="540.40" x2="561.31" y2="542.20" stroke="#111" stroke-width="0.9"/>
<line x1="575.37" y1="540.40" x2="575.37" y2="544.00" stroke="#111" stroke-width="0.9"/>
<text transform="translate(575.37 555.70) scale(0.930 1.050)" font-size="9.00" text-anchor="middle">1,4</text>
<line x1="589.44" y1="540.40" x2="589.44" y2="542.20" stroke="#111" stroke-width="0.9"/>
<line x1="603.50" y1="540.40" x2="603.50" y2="544.00" stroke="#111" stroke-width="0.9"/>
<text transform="translate(603.50 555.70) scale(0.930 1.050)" font-size="9.00" text-anchor="middle">1,6</text>
<line x1="402.50" y1="540.40" x2="406.60" y2="540.40" stroke="#111" stroke-width="0.9"/>
<text transform="translate(399.60 542.50) scale(0.930 1.050)" font-size="9.00" text-anchor="end">0,1</text>
<line x1="404.60" y1="505.03" x2="406.60" y2="505.03" stroke="#111" stroke-width="0.9"/>
<line x1="402.50" y1="469.67" x2="406.60" y2="469.67" stroke="#111" stroke-width="0.9"/>
<text transform="translate(399.60 471.77) scale(0.930 1.050)" font-size="9.00" text-anchor="end">0,2</text>
<line x1="404.60" y1="434.30" x2="406.60" y2="434.30" stroke="#111" stroke-width="0.9"/>
<line x1="402.50" y1="398.93" x2="406.60" y2="398.93" stroke="#111" stroke-width="0.9"/>
<text transform="translate(399.60 401.03) scale(0.930 1.050)" font-size="9.00" text-anchor="end">0,3</text>
<line x1="404.60" y1="363.57" x2="406.60" y2="363.57" stroke="#111" stroke-width="0.9"/>
<line x1="402.50" y1="328.20" x2="406.60" y2="328.20" stroke="#111" stroke-width="0.9"/>
<text transform="translate(399.60 330.30) scale(0.930 1.050)" font-size="9.00" text-anchor="end">0,4</text>
<text transform="translate(505.40 574.00) scale(0.930 1.040)" font-size="11.50" text-anchor="middle">Back contact barrier height (eV)</text>
<text transform="translate(511.00 586.60) scale(0.930 1.040)" font-size="11.60" text-anchor="middle">(d)</text>
<text transform="translate(381.30 434.15) rotate(-90)" font-size="11.55" text-anchor="middle">Front contact barrier height (eV)</text>
<rect x="633.30" y="532.31" width="17.50" height="4.19" fill="#0000ff"/>
<rect x="633.30" y="529.12" width="17.50" height="4.19" fill="#0010ff"/>
<rect x="633.30" y="525.92" width="17.50" height="4.19" fill="#0020ff"/>
<rect x="633.30" y="522.73" width="17.50" height="4.19" fill="#0030ff"/>
<rect x="633.30" y="519.54" width="17.50" height="4.19" fill="#0040ff"/>
<rect x="633.30" y="516.35" width="17.50" height="4.19" fill="#0050ff"/>
<rect x="633.30" y="513.15" width="17.50" height="4.19" fill="#0060ff"/>
<rect x="633.30" y="509.96" width="17.50" height="4.19" fill="#0070ff"/>
<rect x="633.30" y="506.77" width="17.50" height="4.19" fill="#0080ff"/>
<rect x="633.30" y="503.58" width="17.50" height="4.19" fill="#008fff"/>
<rect x="633.30" y="500.39" width="17.50" height="4.19" fill="#009fff"/>
<rect x="633.30" y="497.19" width="17.50" height="4.19" fill="#00afff"/>
<rect x="633.30" y="494.00" width="17.50" height="4.19" fill="#00bfff"/>
<rect x="633.30" y="490.81" width="17.50" height="4.19" fill="#00cfff"/>
<rect x="633.30" y="487.62" width="17.50" height="4.19" fill="#00dfff"/>
<rect x="633.30" y="484.43" width="17.50" height="4.19" fill="#00efff"/>
<rect x="633.30" y="481.23" width="17.50" height="4.19" fill="#00ffff"/>
<rect x="633.30" y="478.04" width="17.50" height="4.19" fill="#00ffef"/>
<rect x="633.30" y="474.85" width="17.50" height="4.19" fill="#00ffdf"/>
<rect x="633.30" y="471.66" width="17.50" height="4.19" fill="#00ffcf"/>
<rect x="633.30" y="468.46" width="17.50" height="4.19" fill="#00ffbf"/>
<rect x="633.30" y="465.27" width="17.50" height="4.19" fill="#00ffaf"/>
<rect x="633.30" y="462.08" width="17.50" height="4.19" fill="#00ff9f"/>
<rect x="633.30" y="458.89" width="17.50" height="4.19" fill="#00ff8f"/>
<rect x="633.30" y="455.70" width="17.50" height="4.19" fill="#00ff80"/>
<rect x="633.30" y="452.50" width="17.50" height="4.19" fill="#00ff70"/>
<rect x="633.30" y="449.31" width="17.50" height="4.19" fill="#00ff60"/>
<rect x="633.30" y="446.12" width="17.50" height="4.19" fill="#00ff50"/>
<rect x="633.30" y="442.93" width="17.50" height="4.19" fill="#00ff40"/>
<rect x="633.30" y="439.73" width="17.50" height="4.19" fill="#00ff30"/>
<rect x="633.30" y="436.54" width="17.50" height="4.19" fill="#00ff20"/>
<rect x="633.30" y="433.35" width="17.50" height="4.19" fill="#00ff10"/>
<rect x="633.30" y="430.16" width="17.50" height="4.19" fill="#00ff00"/>
<rect x="633.30" y="426.97" width="17.50" height="4.19" fill="#10ff00"/>
<rect x="633.30" y="423.77" width="17.50" height="4.19" fill="#20ff00"/>
<rect x="633.30" y="420.58" width="17.50" height="4.19" fill="#30ff00"/>
<rect x="633.30" y="417.39" width="17.50" height="4.19" fill="#40ff00"/>
<rect x="633.30" y="414.20" width="17.50" height="4.19" fill="#50ff00"/>
<rect x="633.30" y="411.00" width="17.50" height="4.19" fill="#60ff00"/>
<rect x="633.30" y="407.81" width="17.50" height="4.19" fill="#70ff00"/>
<rect x="633.30" y="404.62" width="17.50" height="4.19" fill="#80ff00"/>
<rect x="633.30" y="401.43" width="17.50" height="4.19" fill="#8fff00"/>
<rect x="633.30" y="398.24" width="17.50" height="4.19" fill="#9fff00"/>
<rect x="633.30" y="395.04" width="17.50" height="4.19" fill="#afff00"/>
<rect x="633.30" y="391.85" width="17.50" height="4.19" fill="#bfff00"/>
<rect x="633.30" y="388.66" width="17.50" height="4.19" fill="#cfff00"/>
<rect x="633.30" y="385.47" width="17.50" height="4.19" fill="#dfff00"/>
<rect x="633.30" y="382.28" width="17.50" height="4.19" fill="#efff00"/>
<rect x="633.30" y="379.08" width="17.50" height="4.19" fill="#ffff00"/>
<rect x="633.30" y="375.89" width="17.50" height="4.19" fill="#ffef00"/>
<rect x="633.30" y="372.70" width="17.50" height="4.19" fill="#ffdf00"/>
<rect x="633.30" y="369.51" width="17.50" height="4.19" fill="#ffcf00"/>
<rect x="633.30" y="366.31" width="17.50" height="4.19" fill="#ffbf00"/>
<rect x="633.30" y="363.12" width="17.50" height="4.19" fill="#ffaf00"/>
<rect x="633.30" y="359.93" width="17.50" height="4.19" fill="#ff9e00"/>
<rect x="633.30" y="356.74" width="17.50" height="4.19" fill="#ff8e00"/>
<rect x="633.30" y="353.55" width="17.50" height="4.19" fill="#ff7e00"/>
<rect x="633.30" y="350.35" width="17.50" height="4.19" fill="#ff6e00"/>
<rect x="633.30" y="347.16" width="17.50" height="4.19" fill="#ff5e00"/>
<rect x="633.30" y="343.97" width="17.50" height="4.19" fill="#ff4e00"/>
<rect x="633.30" y="340.78" width="17.50" height="4.19" fill="#ff3e00"/>
<rect x="633.30" y="337.58" width="17.50" height="4.19" fill="#ff2a00"/>
<rect x="633.30" y="334.39" width="17.50" height="4.19" fill="#ff1400"/>
<rect x="633.30" y="332.20" width="17.50" height="3.19" fill="#ff0000"/>
<rect x="633.30" y="328.00" width="17.50" height="4.20" fill="#fff"/>
<rect x="633.30" y="536.50" width="17.50" height="4.10" fill="#000"/>
<rect x="633.30" y="328.00" width="17.50" height="212.60" fill="none" stroke="#111" stroke-width="0.6"/>
<line x1="650.80" y1="332.20" x2="654.80" y2="332.20" stroke="#111" stroke-width="0.8"/>
<text transform="translate(657.30 334.60) scale(0.825 1.000)" font-size="7.90">23,56</text>
<line x1="650.80" y1="357.74" x2="654.80" y2="357.74" stroke="#111" stroke-width="0.8"/>
<text transform="translate(657.30 360.14) scale(0.825 1.000)" font-size="7.90">23,53</text>
<line x1="650.80" y1="383.27" x2="654.80" y2="383.27" stroke="#111" stroke-width="0.8"/>
<text transform="translate(657.30 385.67) scale(0.825 1.000)" font-size="7.90">23,50</text>
<line x1="650.80" y1="408.81" x2="654.80" y2="408.81" stroke="#111" stroke-width="0.8"/>
<text transform="translate(657.30 411.21) scale(0.825 1.000)" font-size="7.90">23,47</text>
<line x1="650.80" y1="434.35" x2="654.80" y2="434.35" stroke="#111" stroke-width="0.8"/>
<text transform="translate(657.30 436.75) scale(0.825 1.000)" font-size="7.90">23,44</text>
<line x1="650.80" y1="459.89" x2="654.80" y2="459.89" stroke="#111" stroke-width="0.8"/>
<text transform="translate(657.30 462.29) scale(0.825 1.000)" font-size="7.90">23,40</text>
<line x1="650.80" y1="485.43" x2="654.80" y2="485.43" stroke="#111" stroke-width="0.8"/>
<text transform="translate(657.30 487.82) scale(0.825 1.000)" font-size="7.90">23,37</text>
<line x1="650.80" y1="510.96" x2="654.80" y2="510.96" stroke="#111" stroke-width="0.8"/>
<text transform="translate(657.30 513.36) scale(0.825 1.000)" font-size="7.90">23,34</text>
<line x1="650.80" y1="536.50" x2="654.80" y2="536.50" stroke="#111" stroke-width="0.8"/>
<text transform="translate(657.30 538.90) scale(0.825 1.000)" font-size="7.90">23,31</text>
<text transform="translate(642.10 320.40) scale(0.930 1.080)" font-size="11.60" text-anchor="middle">Jsc (mA/cm2)</text>
</g>
</svg></body></html>
